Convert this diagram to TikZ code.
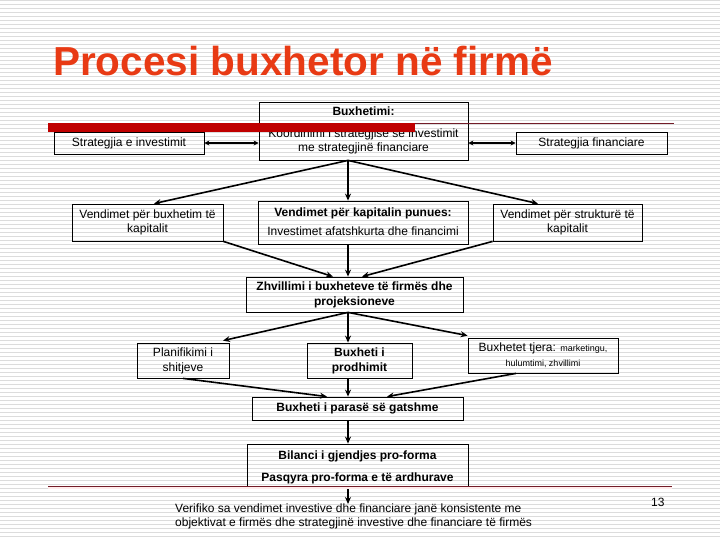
\documentclass[tikz,border=0pt]{standalone}
\usepackage{fontspec}
\setmainfont{Liberation Sans}
\usetikzlibrary{arrows.meta,calc}
\definecolor{titlered}{RGB}{232,58,20}
\definecolor{barred}{RGB}{192,0,0}
\definecolor{linered}{RGB}{115,28,40}
\definecolor{stripe}{RGB}{220,220,220}
\begin{document}
\begin{tikzpicture}[x=1pt,y=-1pt,
  box/.style={draw=black, line width=0.8pt, inner sep=0pt, align=center,
    font=\fontsize{12}{14}\selectfont},
  txt/.style={inner sep=0pt, align=center, text height=8.5pt, text depth=0.5pt,
    font=\fontsize{12}{14}\selectfont},
  arr/.style={line width=1.6pt, -{Stealth[length=7pt,width=6pt]}},
  darr/.style={line width=1.6pt, {Stealth[length=5pt,width=5pt]}-{Stealth[length=5pt,width=5pt]}}]
\useasboundingbox (0,0) rectangle (720,540);
\fill[white] (0,0) rectangle (720,540);
\foreach \y in {0.7,4.7,...,540} \draw[stripe,line width=1.2pt] (0,\y) -- (720,\y);

% title
\node[anchor=base west, text=titlered, inner sep=0pt,
  font=\fontsize{40.5}{48}\selectfont\bfseries] (title) at (53,76) {Procesi buxhetor në firmë};

% top row
\node[box, minimum width=209pt, minimum height=58pt] (buxh) at (363.5,131) {};
\node[txt, font=\fontsize{12}{14}\selectfont\bfseries] (t1) at (363.5,112) {Buxhetimi:};
\node[txt] (t2) at (363.5,134) {Koordinimi i strategjisë së investimit};
\node[txt] (t3) at (363.5,148) {me strategjinë financiare};
\node[box, minimum width=150pt, minimum height=22pt] (sinv) at (129,143) {Strategjia e investimit};
\node[box, minimum width=151pt, minimum height=22pt] (sfin) at (591.5,143) {Strategjia financiare};

% second row
\node[box, minimum width=151pt, minimum height=37pt] (vbk) at (147.5,222.5) {Vendimet për buxhetim të\\kapitalit};
\node[box, minimum width=210pt, minimum height=43pt] (vkp) at (363,222.5) {};
\node[txt, font=\fontsize{12}{14}\selectfont\bfseries] (t4) at (363,212) {Vendimet për kapitalin punues:};
\node[txt] (t5) at (363,232) {Investimet afatshkurta dhe financimi};
\node[box, minimum width=149pt, minimum height=37pt] (vsk) at (567.5,222.5) {Vendimet për strukturë të\\kapitalit};

% third
\node[box, minimum width=217pt, minimum height=35pt, font=\fontsize{12}{15}\selectfont\bfseries] (zhv) at (354.5,294.5) {Zhvillimi i buxheteve të firmës dhe\\projeksioneve};

% fourth row
\node[box, minimum width=92pt, minimum height=35pt, font=\fontsize{12}{15}\selectfont] (plan) at (183,360.5) {Planifikimi i\\shitjeve};
\node[box, minimum width=105pt, minimum height=35pt, font=\fontsize{12}{15}\selectfont\bfseries] (bprod) at (359.5,360.5) {Buxheti i\\prodhimit};
\node[box, minimum width=150pt, minimum height=35pt, font=\fontsize{12}{15}\selectfont] (btj) at (543,355.5) {Buxhetet tjera: {\fontsize{9}{11}\selectfont marketingu,}\\{\fontsize{9}{11}\selectfont hulumtimi, zhvillimi}};

% fifth
\node[box, minimum width=211pt, minimum height=23pt, font=\fontsize{12}{14}\selectfont\bfseries] (bpar) at (357.5,408.5) {Buxheti i parasë së gatshme};
\node[box, minimum width=221pt, minimum height=44pt] (bil) at (357.5,466) {};
\node[txt, font=\fontsize{12}{14}\selectfont\bfseries] (t6) at (357.5,455) {Bilanci i gjendjes pro-forma};
\node[txt, font=\fontsize{12}{14}\selectfont\bfseries] (t7) at (357.5,477) {Pasqyra pro-forma e të ardhurave};

% verification text
\node[anchor=north west, inner sep=0pt, align=left, font=\fontsize{12}{14}\selectfont] (verif) at (175,504)
  {Verifiko sa vendimet investive dhe financiare janë konsistente me\\objektivat e firmës dhe strategjinë investive dhe financiare të firmës};
\node[anchor=north west, inner sep=0pt, font=\fontsize{12}{14}\selectfont] (pnum) at (651,498) {13};

% x positions
\coordinate (cx) at (348,0);
\coordinate (xa) at (154,0);
\coordinate (xb) at (538,0);
\coordinate (xc) at (333,0);
\coordinate (xd) at (362,0);
\coordinate (xe) at (223,0);
\coordinate (xf) at (327,0);
\coordinate (xg) at (387,0);
\coordinate (xh) at (516,0);

% connectors
\draw[darr] (sinv.east) -- (sinv.east -| buxh.west);
\draw[darr] (sfin.west -| buxh.east) -- (sfin.west);
\draw[arr] (buxh.south -| cx) -- (vbk.north -| xa);
\draw[arr] (buxh.south -| cx) -- (vkp.north -| cx);
\draw[arr] (buxh.south -| cx) -- (vsk.north -| xb);
\draw[arr] (vbk.south east) -- (zhv.north -| xc);
\draw[arr] (vkp.south -| cx) -- (zhv.north -| cx);
\draw[arr] (vsk.south west) -- (zhv.north -| xd);
\draw[arr] (zhv.south -| cx) -- ($(plan.north -| xe)+(0,-2)$);
\draw[arr] (zhv.south -| cx) -- (bprod.north -| cx);
\draw[arr] (zhv.south -| cx) -- ($(btj.north west)+(0,-2)$);
\draw[arr] (plan.south) -- (bpar.north -| xf);
\draw[arr] (bprod.south -| cx) -- (bpar.north -| cx);
\draw[arr] (btj.south -| xh) -- (bpar.north -| xg);
\draw[arr] (bpar.south -| cx) -- (bil.north -| cx);
\draw[arr] (bil.south -| cx) -- (verif.north -| cx);

% decorative lines
\fill[barred] (48,123) rectangle (415,132);
\draw[linered, line width=0.9pt] (415,123.5) -- (674,123.5);
\draw[red!8, line width=2pt] (48,488) -- (672,488);
\draw[linered, line width=0.9pt] (48,486) -- (672,486);
\end{tikzpicture}
\end{document}
